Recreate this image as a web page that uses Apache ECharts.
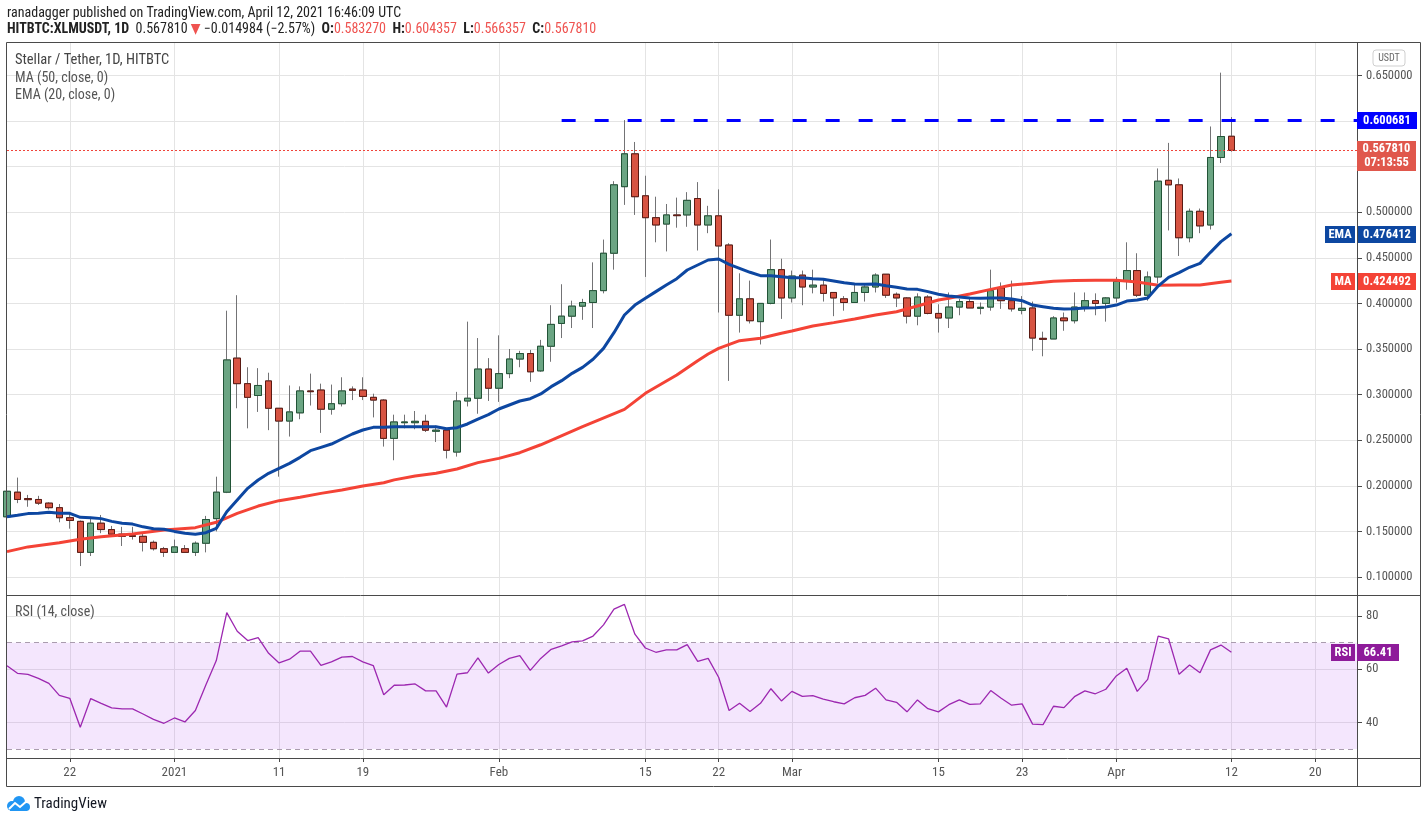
<!DOCTYPE html>
<html><head><meta charset="utf-8">
<script src="https://cdn.jsdelivr.net/npm/echarts@6/dist/echarts.min.js"></script>
<style>html,body{margin:0;padding:0;background:#fff;overflow:hidden}#c{width:1428px;height:823px}</style>
</head><body><div id="c"></div>
<script>
// ---------- DATA ----------
const startDay = Date.UTC(2020, 11, 16);   // first candle: 2020-12-16
const dayCount = 130;                        // axis runs to 2021-04-24
const open = [
.166,.193,.186,.185,.181,.176,.165,.161,.127,.159,
.152,.147,.1453,.1446,.138,.131,.127,.131,.127,.137,
.164,.193,.340,.312,.299,.315,.285,.271,.280,.304,
.305,.284,.290,.306,.305,.297,.294,.252,.2692,.2692,
.2707,.2598,.261,.237,.293,.296,.328,.307,.323,.339,
.345,.326,.353,.378,.386,.397,.401,.414,.455,.528,
.564,.518,.494,.487,.497,.497,.515,.486,.496,.464,
.387,.405,.380,.400,.437,.406,.431,.418,.420,.412,
.405,.401,.412,.418,.432,.410,.406,.386,.407,.389,
.384,.396,.402,.3946,.396,.417,.403,.3924,.395,.3617,
.361,.384,.381,.396,.403,.400,.406,.425,.436,.409,
.429,.535,.530,.472,.501,.486,.560,.583270];
const high = [
.198,.209,.190,.189,.182,.180,.171,.162,.166,.168,
.156,.155,.155,.149,.140,.133,.141,.135,.139,.167,
.210,.392,.409,.330,.329,.324,.285,.310,.309,.323,
.312,.311,.319,.309,.319,.301,.295,.278,.278,.282,
.278,.266,.261,.303,.380,.362,.340,.365,.350,.348,
.349,.360,.398,.421,.403,.405,.445,.470,.534,.601,
.577,.540,.517,.509,.516,.522,.533,.507,.525,.466,
.433,.425,.400,.470,.449,.436,.436,.437,.426,.412,
.408,.422,.420,.433,.432,.412,.407,.411,.409,.399,
.412,.405,.405,.401,.437,.423,.425,.408,.402,.369,
.386,.390,.412,.412,.411,.407,.429,.467,.455,.435,
.548,.576,.537,.504,.504,.594,.653,.604357];
const low = [
.163,.181,.177,.179,.174,.160,.153,.112,.123,.148,
.144,.134,.141,.128,.129,.122,.127,.127,.123,.127,
.150,.192,.285,.263,.281,.261,.210,.254,.273,.288,
.258,.278,.287,.294,.294,.275,.243,.228,.263,.262,
.259,.248,.230,.232,.287,.279,.293,.292,.318,.330,
.314,.325,.336,.362,.373,.382,.373,.411,.437,.508,
.497,.429,.467,.457,.483,.484,.458,.477,.390,.315,
.368,.378,.355,.399,.383,.401,.398,.411,.402,.386,
.392,.401,.402,.412,.406,.396,.378,.376,.388,.368,
.373,.387,.395,.388,.392,.394,.391,.388,.348,.342,
.361,.370,.378,.391,.387,.380,.401,.415,.407,.403,
.422,.480,.452,.467,.477,.481,.554,.566357];
const close = [
.194,.185,.1848,.181,.176,.165,.162,.127,.159,.152,
.147,.1446,.1445,.138,.131,.127,.133,.127,.137,.163,
.193,.338,.312,.297,.310,.285,.271,.281,.304,.3032,
.284,.290,.304,.3047,.298,.294,.252,.270,.270,.2707,
.261,.261,.239,.293,.296,.328,.307,.323,.339,.345,
.325,.353,.377,.386,.397,.401,.414,.455,.530,.564,
.517,.494,.486,.497,.4962,.513,.486,.496,.463,.387,
.405,.381,.400,.437,.406,.430,.418,.420,.411,.406,
.401,.412,.418,.431,.409,.406,.386,.407,.389,.384,
.396,.402,.395,.3957,.414,.403,.394,.3946,.362,.3606,
.384,.381,.396,.403,.400,.406,.424,.436,.409,.429,
.534,.530,.472,.501,.485,.560,.583,.567810];
const ema20 = [
.166,.1676,.1695,.170,.1709,.170,.1698,.1654,.165,.164,
.161,.159,.158,.155,.153,.1523,.150,.148,.1468,.1486,
.1533,.1716,.1844,.1972,.2064,.2137,.2192,.2246,.2312,.2385,
.2422,.2458,.2513,.2568,.2612,.2641,.2641,.2648,.2648,.2648,
.2648,.2648,.2626,.2637,.2678,.2732,.278,.2842,.2886,.2930,
.2955,.3007,.3087,.3153,.3233,.3299,.3387,.3507,.3679,.3873,
.3982,.4056,.4129,.4202,.4271,.4366,.4421,.4476,.4487,.4428,
.4385,.4341,.4304,.4304,.4293,.4282,.4282,.4271,.4264,.4246,
.4227,.4213,.4209,.4213,.4194,.4176,.4158,.4154,.4129,.4100,
.4081,.4070,.4059,.4056,.4059,.4059,.4048,.4030,.3982,.3964,
.3946,.3939,.3942,.3950,.3953,.3961,.3982,.4026,.4037,.4060,
.4190,.4286,.4337,.4396,.4439,.4560,.4677,.476412];
const ma50Points = [
['2020-12-16',.1278],['2020-12-18',.1330],['2020-12-21',.1376],['2020-12-23',.1413],['2020-12-25',.1442],
['2020-12-28',.1472],['2020-12-31',.1515],['2021-01-03',.1541],['2021-01-05',.1600],['2021-01-07',.1698],
['2021-01-09',.1778],['2021-01-11',.1837],['2021-01-13',.1874],['2021-01-15',.1917],['2021-01-17',.1954],
['2021-01-19',.1998],['2021-01-21',.2034],['2021-01-22',.2065],['2021-01-24',.2107],['2021-01-26',.2137],
['2021-01-28',.2184],['2021-01-30',.2254],['2021-02-01',.2301],['2021-02-03',.2363],['2021-02-05',.2450],
['2021-02-09',.2650],['2021-02-13',.2838],['2021-02-15',.3014],['2021-02-18',.3215],['2021-02-20',.3372],
['2021-02-21',.3445],['2021-02-22',.3507],['2021-02-24',.3591],['2021-02-26',.3617],['2021-02-28',.3672],
['2021-03-01',.3697],['2021-03-03',.3752],['2021-03-05',.3789],['2021-03-07',.3829],['2021-03-09',.3873],
['2021-03-11',.3909],['2021-03-13',.3971],['2021-03-15',.4037],['2021-03-16',.4056],['2021-03-18',.4103],
['2021-03-20',.4154],['2021-03-22',.4202],['2021-03-24',.4220],['2021-03-26',.4242],['2021-03-28',.4250],
['2021-03-30',.4253],['2021-04-01',.4253],['2021-04-03',.4235],['2021-04-05',.4200],['2021-04-07',.4202],
['2021-04-09',.4202],['2021-04-11',.4231],['2021-04-12',.424492]];
const rsi14 = [
61.3,58.5,58.1,56.6,54.7,50.2,49.1,38.2,49.0,47.2,
45.5,45.1,45.1,43.2,41.2,39.7,41.7,40.2,44.5,54.1,
63.3,81.3,74.3,70.8,71.9,66.0,62.4,63.8,66.8,66.8,
61.5,62.8,64.6,64.8,62.8,61.4,50.4,54.0,54.1,54.5,
51.9,51.9,45.8,58.2,58.7,64.3,58.6,61.8,64.1,65.1,
59.6,64.1,67.5,68.8,70.3,70.7,72.5,76.7,82.6,84.4,
73.2,68.0,66.4,67.3,67.3,69.3,63.0,64.1,57.0,44.5,
47.2,44.1,47.2,52.7,48.1,51.7,49.8,50.1,48.8,47.8,
47.0,49.3,50.2,52.9,48.5,47.6,44.0,48.5,45.2,44.0,
46.7,48.5,46.8,47.0,52.0,49.1,46.5,47.0,39.4,39.2,
46.1,45.6,49.7,51.9,50.8,52.5,57.5,60.4,51.7,56.2,
72.5,71.4,58.1,61.6,58.7,67.3,69.1,66.41];
const xTickLabels = {
'2020-12-22':'22','2021-01-01':'2021','2021-01-11':'11','2021-01-19':'19','2021-02-01':'Feb',
'2021-02-15':'15','2021-02-22':'22','2021-03-01':'Mar','2021-03-15':'15','2021-03-23':'23',
'2021-04-01':'Apr','2021-04-12':'12','2021-04-20':'20'};
const priceTicks = [0.10,0.15,0.20,0.25,0.30,0.35,0.40,0.45,0.50,0.55,0.60,0.65];
const rsiTicks = [40,60,80];
const resistance = 0.600681;
const resistanceFrom = '2021-02-07';
const priceRange = [0.08026, 0.68553];
const rsiRange = [26.65, 87.93];
const countdown = '07:13:55';
const titleLine = 'ranadagger published on TradingView.com, April 12, 2021 16:46:09 UTC';
const symbolText = 'HITBTC:XLMUSDT, 1D';
const changeText = '\u22120.014984 (\u22122.57%)';

// ---------- BUILD ----------
const cats = [];
for (let i = 0; i < dayCount; i++) {
  cats.push(new Date(startDay + i * 86400000).toISOString().slice(0, 10));
}
const n = close.length;
const last = n - 1;
const fullCandles = [], bodies = [];
for (let i = 0; i < n; i++) {
  fullCandles.push([open[i], close[i], low[i], high[i]]);
  bodies.push([open[i], close[i], Math.min(open[i], close[i]), Math.max(open[i], close[i])]);
}
const maSeries = ma50Points.map(p => [p[0], p[1]]);

const FONT = "'Liberation Sans Narrow','Arial Narrow','Roboto Condensed','DejaVu Sans Condensed',sans-serif";
const GRID = '#e4e4e4';
const AX = '#4a4a4a';
const isTick = (idx, val) => Object.prototype.hasOwnProperty.call(xTickLabels, val);

const chart = echarts.init(document.getElementById('c'));
chart.setOption({
  animation: false,
  backgroundColor: '#ffffff',
  textStyle: { fontFamily: FONT },
  grid: [
    { left: 7, right: 71, top: 43, height: 552 },
    { left: 7, right: 71, top: 595, height: 163 }
  ],
  xAxis: [
    { type: 'category', gridIndex: 0, data: cats, boundaryGap: false,
      axisLine: { show: false }, axisTick: { show: false }, axisLabel: { show: false },
      splitLine: { show: true, interval: isTick, lineStyle: { color: GRID, width: 1 } } },
    { type: 'category', gridIndex: 1, data: cats, boundaryGap: false,
      axisLine: { show: false },
      axisTick: { show: true, interval: isTick, length: 4, lineStyle: { color: AX } },
      axisLabel: { show: true, interval: isTick, formatter: v => xTickLabels[v] || '',
        color: '#555', fontSize: 13, fontFamily: FONT, margin: 8 },
      splitLine: { show: true, interval: isTick, lineStyle: { color: GRID, width: 1 } } }
  ],
  yAxis: [
    { type: 'value', gridIndex: 0, position: 'right', min: priceRange[0], max: priceRange[1],
      axisLine: { show: false },
      axisTick: { show: true, length: 5, customValues: priceTicks, lineStyle: { color: AX } },
      axisLabel: { show: true, customValues: priceTicks, formatter: v => v.toFixed(6),
        color: '#555', fontSize: 12.5, fontFamily: FONT, margin: 9 },
      splitLine: { show: true, lineStyle: { color: GRID, width: 1 } } },
    { type: 'value', gridIndex: 1, position: 'right', min: rsiRange[0], max: rsiRange[1],
      axisLine: { show: false },
      axisTick: { show: true, length: 5, customValues: rsiTicks, lineStyle: { color: AX } },
      axisLabel: { show: true, customValues: rsiTicks, formatter: v => String(v),
        color: '#555', fontSize: 12.5, fontFamily: FONT, margin: 9 },
      splitLine: { show: true, lineStyle: { color: GRID, width: 1 } } }
  ],
  series: [
    { name: 'wicks', type: 'candlestick', xAxisIndex: 0, yAxisIndex: 0, data: fullCandles,
      barWidth: 7, silent: true, z: 3,
      itemStyle: { color: '#6ba583', color0: '#d75442', borderColor: '#737375', borderColor0: '#737375', borderWidth: 1 },
      markLine: { silent: true, symbol: 'none', label: { show: false }, animation: false,
        data: [
          [{ coord: [resistanceFrom, resistance], lineStyle: { color: '#0000ff', width: 3, type: [14, 19] } },
           { coord: [cats[cats.length - 1], resistance], lineStyle: { color: '#0000ff', width: 3, type: [14, 19] } }],
          [{ coord: [cats[0], close[last]], lineStyle: { color: '#f0443a', width: 1, type: [2, 2] } },
           { coord: [cats[cats.length - 1], close[last]], lineStyle: { color: '#f0443a', width: 1, type: [2, 2] } }]
        ] } },
    { name: 'bodies', type: 'candlestick', xAxisIndex: 0, yAxisIndex: 0, data: bodies,
      barWidth: 7, silent: true, z: 4,
      itemStyle: { color: '#6ba583', color0: '#d75442', borderColor: '#225437', borderColor0: '#5b1a13', borderWidth: 1 } },
    { name: 'MA 50', type: 'line', xAxisIndex: 0, yAxisIndex: 0, data: maSeries, connectNulls: true,
      showSymbol: false, silent: true, z: 5, lineStyle: { color: '#f44336', width: 3 } },
    { name: 'EMA 20', type: 'line', xAxisIndex: 0, yAxisIndex: 0, data: ema20,
      showSymbol: false, silent: true, z: 6, lineStyle: { color: '#0d47a1', width: 3 } },
    { name: 'RSI', type: 'line', xAxisIndex: 1, yAxisIndex: 1, data: rsi14,
      showSymbol: false, silent: true, z: 5, lineStyle: { color: '#9c27b0', width: 1.3 },
      markArea: { silent: true, itemStyle: { color: 'rgba(180,90,240,0.15)' },
        data: [[{ yAxis: 30 }, { yAxis: 70 }]] },
      markLine: { silent: true, symbol: 'none', label: { show: false },
        lineStyle: { color: '#aa9cae', width: 1, type: [5, 4] },
        data: [{ yAxis: 70 }, { yAxis: 30 }] } }
  ]
});

// ---------- OVERLAYS (positions from the chart's own scales) ----------
const py = v => chart.convertToPixel({ yAxisIndex: 0 }, v);
const ry = v => chart.convertToPixel({ yAxisIndex: 1 }, v);
const ZT = 200;
function box(x, y, w, h, fill, text, opts) {
  opts = opts || {};
  return [
    { type: 'rect', z: ZT, shape: { x: x, y: y, width: w, height: h, r: opts.r || 0 },
      style: { fill: fill, stroke: opts.stroke || null, lineWidth: 1 } },
    { type: 'text', z: ZT + 1, x: x + w / 2, y: y + h / 2 + 0.5,
      style: { text: text, fill: opts.color || '#fff', font: (opts.weight || 'bold') + ' ' + (opts.size || 12.5) + 'px ' + FONT,
        align: 'center', verticalAlign: 'middle' } }
  ];
}
const yRes = Math.round(py(resistance)), yCl = Math.round(py(close[last]));
const yEma = Math.round(py(ema20[last])), yMa = Math.round(py(ma50Points[ma50Points.length - 1][1]));
const yRsi = Math.round(ry(rsi14[last]));
const fmt = v => v.toFixed(6);
const red = '#ef5350';
let graphics = [
  // frames
  { type: 'rect', z: 150, shape: { x: 6.5, y: 42.5, width: 1414, height: 744 }, style: { fill: null, stroke: AX, lineWidth: 1 } },
  { type: 'line', z: 150, shape: { x1: 7, y1: 595.5, x2: 1421, y2: 595.5 }, style: { stroke: AX, lineWidth: 1 } },
  { type: 'line', z: 150, shape: { x1: 7, y1: 758.5, x2: 1421, y2: 758.5 }, style: { stroke: AX, lineWidth: 1 } },
  { type: 'line', z: 150, shape: { x1: 1357.5, y1: 43, x2: 1357.5, y2: 787 }, style: { stroke: AX, lineWidth: 1 } },
  // header
  { type: 'text', z: ZT, x: 7, y: 13, style: { text: titleLine, font: '14px ' + FONT, fill: '#222', verticalAlign: 'middle' } },
  { type: 'text', z: ZT, x: 7, y: 29, style: {
      text: '{b|' + symbolText + '}  {n|' + fmt(close[last]) + '} {r|\u25BC} {n|' + changeText + '}  {b|O:}{r|' + fmt(open[last]) +
            '}  {b|H:}{r|' + fmt(high[last]) + '}  {b|L:}{r|' + fmt(low[last]) + '}  {b|C:}{r|' + fmt(close[last]) + '}',
      font: '14px ' + FONT, verticalAlign: 'middle',
      rich: { b: { font: 'bold 14px ' + FONT, fill: '#222' }, n: { font: '14px ' + FONT, fill: '#222' }, r: { font: '14px ' + FONT, fill: red } } } },
  // legends
  { type: 'text', z: ZT, x: 15, y: 60, style: { text: 'Stellar / Tether, 1D, HITBTC', font: '14.5px ' + FONT, fill: '#444', verticalAlign: 'middle' } },
  { type: 'text', z: ZT, x: 15, y: 78, style: { text: 'MA (50, close, 0)', font: '14px ' + FONT, fill: '#555', verticalAlign: 'middle' } },
  { type: 'text', z: ZT, x: 15, y: 95, style: { text: 'EMA (20, close, 0)', font: '14px ' + FONT, fill: '#555', verticalAlign: 'middle' } },
  { type: 'text', z: ZT, x: 15, y: 612, style: { text: 'RSI (14, close)', font: '14px ' + FONT, fill: '#555', verticalAlign: 'middle' } },
  // red last-price box with countdown
  { type: 'rect', z: ZT, shape: { x: 1357, y: yCl - 9, width: 59, height: 30 }, style: { fill: '#e0574c' } },
  { type: 'text', z: ZT + 1, x: 1386.5, y: yCl - 1, style: { text: fmt(close[last]), fill: '#fff', font: 'bold 12.5px ' + FONT, align: 'center', verticalAlign: 'middle' } },
  { type: 'text', z: ZT + 1, x: 1386.5, y: yCl + 13, style: { text: countdown, fill: '#fff', font: 'bold 12.5px ' + FONT, align: 'center', verticalAlign: 'middle' } },
  // TradingView logo
  { type: 'circle', z: ZT, shape: { cx: 12, cy: 806, r: 5 }, style: { fill: '#2196f3' } },
  { type: 'circle', z: ZT, shape: { cx: 19, cy: 802, r: 6 }, style: { fill: '#2196f3' } },
  { type: 'circle', z: ZT, shape: { cx: 26, cy: 807, r: 4 }, style: { fill: '#2196f3' } },
  { type: 'rect', z: ZT, shape: { x: 10, y: 806, width: 17, height: 5 }, style: { fill: '#2196f3' } },
  { type: 'polyline', z: ZT + 1, shape: { points: [[9, 809], [15, 803], [20, 807], [28, 800]] }, style: { stroke: '#ffffff', lineWidth: 2, fill: null } },
  { type: 'text', z: ZT, x: 34, y: 804, style: { text: 'TradingView', font: '15px ' + FONT, fill: '#131722', verticalAlign: 'middle' } }
];
graphics = graphics.concat(
  box(1373, 50, 32, 16, '#ffffff', 'USDT', { stroke: '#cfcfcf', r: 3, color: '#666', weight: 'normal', size: 10 }),
  box(1357, yRes - 8, 60, 17, '#0000ff', fmt(resistance)),
  box(1325, yEma - 8, 30, 17, '#0d47a1', 'EMA'),
  box(1358, yEma - 8, 58, 17, '#0d47a1', fmt(ema20[last])),
  box(1331, yMa - 8, 24, 17, '#f44336', 'MA'),
  box(1358, yMa - 8, 58, 17, '#f44336', fmt(ma50Points[ma50Points.length - 1][1])),
  box(1331, yRsi - 8, 24, 17, '#8e1b9a', 'RSI'),
  box(1357, yRsi - 8, 42, 17, '#8e1b9a', rsi14[last].toFixed(2))
);
chart.setOption({ graphic: graphics });
</script>
</body></html>
